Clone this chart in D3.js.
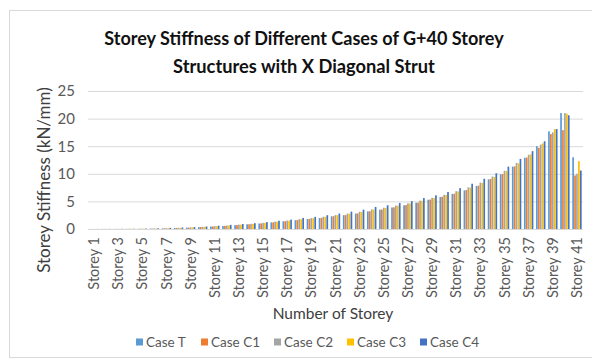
<!DOCTYPE html>
<html>
<head>
<meta charset="utf-8">
<script src="https://cdn.jsdelivr.net/npm/d3@7"></script>
<style>
  html, body { margin: 0; padding: 0; background: #fff; }
  svg { display: block; }
  text { font-family: Lato, "Open Sans", sans-serif; }
</style>
</head>
<body>
<svg id="chart" width="592" height="362"></svg>
<script>
// Storey stiffness (kN/mm) per storey for each structural case
const storeys = d3.range(1, 42).map(i => "Storey " + i);
const seriesNames = ["Case T", "Case C1", "Case C2", "Case C3", "Case C4"];
const caseT  = [0.01,0.02,0.02,0.03,0.05,0.08,0.12,0.18,0.25,0.35,0.45,0.55,0.70,0.85,1.00,1.20,1.40,1.60,1.80,2.00,2.30,2.50,2.80,3.20,3.50,3.90,4.30,4.75,5.30,5.80,6.35,7.00,7.80,9.00,9.90,11.30,12.90,15.00,17.70,21.00,13.00];
const caseC1 = [0.01,0.02,0.02,0.03,0.05,0.08,0.12,0.18,0.25,0.35,0.46,0.56,0.71,0.86,1.01,1.21,1.41,1.61,1.82,2.02,2.32,2.52,2.82,3.22,3.53,3.93,4.33,4.78,5.33,5.84,6.40,7.05,7.85,9.05,9.95,11.35,12.95,14.70,17.20,17.90,9.70];
const caseC2 = [0.01,0.02,0.03,0.04,0.06,0.10,0.15,0.22,0.30,0.40,0.52,0.64,0.79,0.94,1.11,1.33,1.53,1.78,1.98,2.22,2.52,2.80,3.12,3.55,3.85,4.25,4.65,5.15,5.65,6.20,6.85,7.55,8.40,9.50,10.55,11.95,13.45,15.30,17.50,21.00,10.00];
const caseC3 = [0.01,0.02,0.03,0.04,0.06,0.10,0.15,0.21,0.29,0.39,0.51,0.63,0.78,0.93,1.10,1.32,1.52,1.76,1.96,2.20,2.50,2.76,3.08,3.52,3.82,4.22,4.62,5.10,5.62,6.16,6.80,7.50,8.35,9.45,10.50,11.90,13.50,15.50,18.10,20.90,12.30];
const caseC4 = [0.02,0.03,0.04,0.05,0.08,0.13,0.20,0.27,0.35,0.45,0.60,0.75,0.90,1.05,1.25,1.50,1.70,2.00,2.20,2.50,2.80,3.15,3.50,4.00,4.30,4.70,5.05,5.60,6.10,6.70,7.40,8.20,9.10,10.10,11.30,12.70,14.10,15.90,18.10,20.60,10.60];
const yTicks = [0, 5, 10, 15, 20, 25];
const colors = ["#5B9BD5", "#ED7D31", "#A5A5A5", "#FFC000", "#4472C4"];

const seriesValues = [caseT, caseC1, caseC2, caseC3, caseC4];
const rows = storeys.map((s, i) => ({ storey: s, values: seriesValues.map(v => v[i]) }));

const svg = d3.select("#chart");
const margin = { left: 88, right: 9, top: 91, bottom: 133 };
const W = 592, H = 362;

// chart frame
svg.append("rect")
  .attr("x", 9.5).attr("y", 10.5)
  .attr("width", 600).attr("height", 347)
  .attr("fill", "#fff").attr("stroke", "#D9D9D9");

const x = d3.scaleBand().domain(storeys).range([margin.left, W - margin.right]).paddingInner(0.22).paddingOuter(0.11);
const x1 = d3.scaleBand().domain(seriesNames).range([0, x.bandwidth()]).paddingInner(0.12);
const y = d3.scaleLinear().domain([0, 25]).range([H - margin.bottom, margin.top]);

// gridlines
const grid = svg.append("g")
  .attr("transform", `translate(${margin.left},0)`)
  .call(d3.axisLeft(y).tickValues(yTicks.filter(t => t > 0)).tickSize(-(W - margin.right - margin.left)).tickFormat(""));
grid.select(".domain").remove();
grid.selectAll("line").attr("stroke", "#D9D9D9").attr("stroke-width", 1);

// y tick labels
const yAxis = svg.append("g")
  .attr("transform", `translate(${margin.left - 13},0)`)
  .call(d3.axisLeft(y).tickValues(yTicks).tickSize(0).tickPadding(0));
yAxis.select(".domain").remove();
yAxis.selectAll("text")
  .attr("fill", "#595959").attr("font-size", 15).style("font-family", "Lato, sans-serif");

// bars
const groups = svg.append("g").selectAll("g").data(rows).join("g")
  .attr("transform", d => `translate(${x(d.storey)},0)`);
groups.selectAll("rect")
  .data(d => d.values.map((v, k) => ({ name: seriesNames[k], value: v, k })))
  .join("rect")
  .attr("x", d => x1(d.name))
  .attr("width", x1.bandwidth())
  .attr("y", d => y(d.value))
  .attr("height", d => y(0) - y(d.value))
  .attr("fill", d => colors[d.k]);

// x axis
const xAxis = svg.append("g")
  .attr("transform", `translate(0,${y(0)})`)
  .call(d3.axisBottom(x).tickValues(storeys.filter((s, i) => i % 2 === 0)).tickSize(0).tickPadding(0));
xAxis.select(".domain").attr("stroke", "#D9D9D9").attr("d", `M${margin.left},0.5H${W - margin.right}`);
xAxis.selectAll("text")
  .attr("fill", "#595959").attr("font-size", 14.5).style("font-family", "Lato, sans-serif")
  .attr("text-anchor", "end")
  .attr("transform", "rotate(-90)")
  .attr("x", -8).attr("y", 0).attr("dy", "0.35em");

// title
const titleLines = ["Storey Stiffness of Different Cases of G+40 Storey", "Structures with X Diagonal Strut"];
const titleWidths = [400, 262];
titleLines.forEach((t, i) => {
  const el = svg.append("text")
    .attr("x", 304).attr("y", 45 + i * 28)
    .attr("text-anchor", "middle")
    .attr("font-size", 18).attr("font-weight", "bold").attr("fill", "#111")
    .text(t);
  const len = el.node().getComputedTextLength();
  el.attr("font-size", 18 * titleWidths[i] / len);
});

// axis titles
svg.append("text")
  .attr("transform", `translate(50,180) rotate(-90)`)
  .attr("text-anchor", "middle")
  .attr("font-size", 17).attr("fill", "#404040")
  .text("Storey Stiffness (kN/mm)");
svg.append("text")
  .attr("x", 333).attr("y", 319)
  .attr("text-anchor", "middle")
  .attr("font-size", 15.5).attr("fill", "#404040")
  .text("Number of Storey");

// legend
const legendX = [136, 201, 274, 347, 420];
const legend = svg.append("g").selectAll("g").data(seriesNames).join("g")
  .attr("transform", (d, i) => `translate(${legendX[i]},342)`);
legend.append("rect").attr("x", 0).attr("y", -3.5).attr("width", 7).attr("height", 7)
  .attr("fill", (d, i) => colors[i]);
legend.append("text").attr("x", 10).attr("y", 0).attr("dy", "0.35em")
  .attr("font-size", 13.5).attr("fill", "#595959").text(d => d);
</script>
</body>
</html>
